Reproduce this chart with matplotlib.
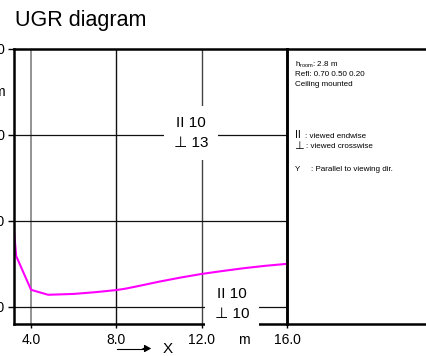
import matplotlib
matplotlib.use("Agg")
import matplotlib.pyplot as plt
from matplotlib.transforms import offset_copy

plt.rcParams['font.family'] = ['Liberation Sans', 'DejaVu Sans']
plt.rcParams['mathtext.fontset'] = 'custom'
plt.rcParams['mathtext.rm'] = 'Liberation Sans'

# curve (X in m, Y in m)
curve_x = [3.2, 3.3, 4.0, 4.8, 6.0, 7.0, 8.0, 8.4, 9.1, 10.0, 11.0, 12.0, 13.0, 14.0, 15.0, 16.0]
curve_y = [7.55, 6.37, 4.79, 4.56, 4.60, 4.68, 4.78, 4.84, 4.98, 5.17, 5.36, 5.53, 5.67, 5.80, 5.91, 6.0]

ticks = [4.0, 8.0, 12.0, 16.0]
tick_labels = ["4.0", "8.0", "12.0", "16.0"]
lim = (3.2, 16.0)

# UGR values at the two marked points
ugr_points_x = [11.49, 13.43]
ugr_points_y = [12.07, 4.14]
ugr_endwise = [10, 10]
ugr_crosswise = [13, 10]

info_lines = ["h$_{\\mathrm{room}}$: 2.8 m", "Refl: 0.70 0.50 0.20", "Ceiling mounted"]

W, H = 427, 356


def fx(px):
    return px / W


def fy(py):
    return 1 - py / H


fig = plt.figure(figsize=(W / 100, H / 100), dpi=100)
ax = fig.add_axes([fx(14), fy(324), fx(287) - fx(14), (324 - 49) / H])
ax.set_xlim(*lim)
ax.set_ylim(*lim)

for s in ax.spines.values():
    s.set_linewidth(1.8)
    s.set_color("black")

grid_cols = ["#8a8a8a", "#111111", "#444444"]
for t, c in zip(ticks[:3], grid_cols):
    ax.axvline(t, color=c, lw=1.0 if c != "#8a8a8a" else 1.3, zorder=1)
for t in ticks[:3]:
    ax.axhline(t, color="#111111", lw=0.9, zorder=1)

ax.plot(curve_x, curve_y, color="#ff00ff", lw=1.5, zorder=2)

for x, y, e, c in zip(ugr_points_x, ugr_points_y, ugr_endwise, ugr_crosswise):
    ax.text(x, y, f"II {e}\n\u22a5 {c}", ha="center", va="center", fontsize=11,
            linespacing=1.55, zorder=3,
            bbox=dict(boxstyle="square,pad=0.65", fc="white", ec="none"))

ax.set_xticks(ticks)
ax.set_xticklabels(tick_labels)
ax.set_yticks(ticks)
ax.set_yticklabels(tick_labels)
ax.tick_params(axis="x", length=3, width=1, pad=3.5, labelsize=10)
ax.tick_params(axis="y", length=4, width=1, pad=2.5, labelsize=10)

# unit labels between last two ticks
ax.text(14.0, lim[0], "m", ha="center", va="top", fontsize=10,
        transform=offset_copy(ax.transData, fig=fig, x=0, y=-6.2, units="points"))
ax.text(lim[0], 14.0, "m", ha="right", va="center", fontsize=10,
        transform=offset_copy(ax.transData, fig=fig, x=-6.5, y=0, units="points"))

# info panel
ax2 = fig.add_axes([fx(287), fy(324), 1.05 - fx(287), (324 - 49) / H])
ax2.set_xticks([])
ax2.set_yticks([])
ax2.patch.set_alpha(0)
for k in ["top", "bottom", "left"]:
    ax2.spines[k].set_linewidth(1.8)
ax2.spines["right"].set_visible(False)

for line, py in zip(info_lines, [64.5, 74.5, 85]):
    fig.text(fx(295), fy(py), line, fontsize=5.8, va="center")
fig.text(fx(295), fy(135), "II", fontsize=7.5, va="center")
fig.text(fx(305), fy(136), ": viewed endwise", fontsize=5.8, va="center")
fig.text(fx(294), fy(146), "\u22a5", fontsize=8, va="center")
fig.text(fx(306), fy(146.5), ": viewed crosswise", fontsize=5.8, va="center")
fig.text(fx(295), fy(169.5), "Y", fontsize=5.8, va="center")
fig.text(fx(311), fy(169.5), ": Parallel to viewing dir.", fontsize=5.8, va="center")

fig.text(fx(15), fy(26), "UGR diagram", fontsize=15.5, va="baseline")

fig.add_artist(plt.Line2D([fx(117), fx(144)], [fy(348.5), fy(348.5)], color="black", lw=0.8))
fig.add_artist(matplotlib.patches.FancyArrowPatch((fx(140), fy(348.5)), (fx(154), fy(348.5)),
                                                  transform=fig.transFigure, arrowstyle="-|>,head_length=4,head_width=2.2",
                                                  color="black", lw=0.8, mutation_scale=1))
fig.text(fx(167.5), fy(349), "X", fontsize=11, ha="center", va="center")

fig.savefig("out.png", dpi=100)
